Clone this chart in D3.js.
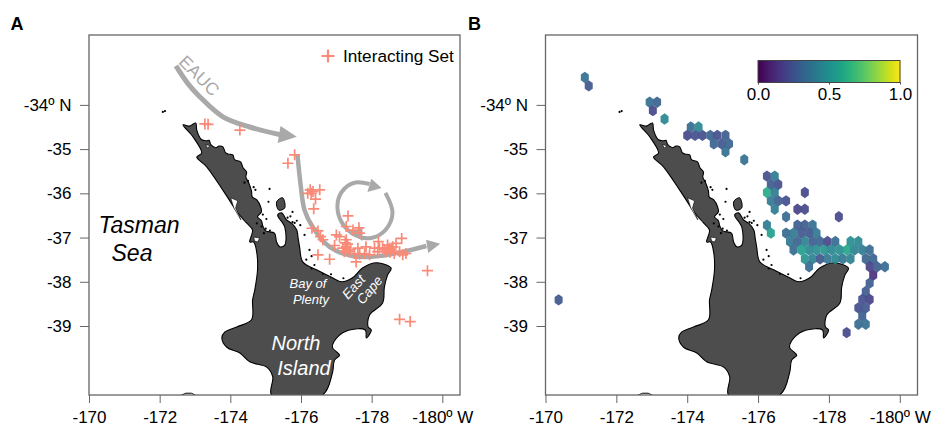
<!DOCTYPE html>
<html>
<head>
<meta charset="utf-8">
<script src="https://cdn.jsdelivr.net/npm/d3@7"></script>
<style>
  body { margin: 0; background: #fff; }
  text { font-family: "Liberation Sans", Arial, sans-serif; }
</style>
</head>
<body>
<div id="chart"></div>
<script>
// longitudes are written as degrees east, tick labels follow the figure
var lonTicks = [170, 172, 174, 176, 178, 180];
var lonLabels = ["-170", "-172", "-174", "-176", "-178", "-180º W"];
var latTicks = [-34, -35, -36, -37, -38, -39];
var latLabels = ["-34º N", "-35", "-36", "-37", "-38", "-39"];
var cbarTicks = [0, 0.5, 1];
var cbarLabels = ["0.0", "0.5", "1.0"];

var northIsland = [[172.66,-34.45],[172.85,-34.48],[173.02,-34.41],[173.05,-34.57],[173.19,-34.79],[173.33,-34.81],[173.40,-34.80],[173.45,-34.90],
  [173.59,-34.97],[173.68,-34.93],[173.79,-34.95],[173.86,-35.08],[173.93,-35.11],[174.07,-35.13],[174.12,-35.24],[174.29,-35.29],[174.36,-35.42],[174.46,-35.52],[174.44,-35.63],[174.52,-35.76],[174.60,-35.95],
  [174.62,-36.08],[174.75,-36.15],[174.86,-36.31],[174.88,-36.42],[174.77,-36.53],[174.88,-36.62],[174.92,-36.74],[175.00,-36.85],[175.25,-36.90],[175.31,-37.10],[175.40,-37.21],
  [175.54,-37.17],[175.54,-36.76],[175.34,-36.49],[175.45,-36.44],[175.59,-36.60],[175.74,-36.68],[175.88,-36.83],[175.92,-37.02],[175.96,-37.21],[176.05,-37.55],
  [176.44,-37.73],[176.89,-37.91],[177.15,-38.00],[177.46,-37.91],[177.74,-37.69],[178.14,-37.57],[178.55,-37.69],[178.45,-37.85],
  [178.36,-38.12],[178.31,-38.48],[177.94,-38.75],[177.90,-39.02],[177.99,-39.09],[177.85,-39.27],[177.82,-39.09],[177.37,-39.09],
  [177.03,-39.25],[176.89,-39.48],[177.09,-39.66],[176.95,-39.77],[176.89,-40.06],[176.61,-40.56],[175.17,-40.56],[175.20,-40.15],
  [175.03,-39.93],[174.55,-39.81],[174.27,-39.61],[173.90,-39.48],[173.76,-39.27],[173.84,-39.14],[174.18,-39.02],[174.60,-38.86],
  [174.63,-38.41],[174.69,-38.19],[174.77,-37.73],[174.75,-37.35],[174.66,-37.10],[174.55,-37.10],[174.63,-36.83],[174.46,-36.67],
  [174.21,-36.44],[173.84,-35.99],[173.33,-35.40],[173.05,-35.18],[173.19,-35.09],[172.94,-34.72]];
var harbours = [
  [[174.01,-36.10],[174.21,-36.17],[174.15,-36.33],[174.30,-36.60],[174.10,-36.33]],
  [[174.66,-36.99],[174.83,-37.01],[174.77,-37.10],[174.69,-37.08]],
  [[173.30,-34.90],[173.42,-34.92],[173.36,-34.98]]
];
var greatBarrier = [[175.31,-36.19],[175.48,-36.10],[175.54,-36.33],[175.37,-36.38]];
var southTip = [[172.57,-40.58],[172.74,-40.52],[172.90,-40.52],[173.05,-40.58]];
var specks = [[172.09,-34.16],[172.15,-34.14],[174.71,-35.92],[175.11,-35.90],[175.76,-36.42],[175.76,-36.65],[175.88,-36.62],
  [176.10,-36.94],[176.24,-37.28],[175.08,-36.19],[176.38,-37.62],[175.82,-36.67],[174.40,-35.76],[174.50,-35.72],[174.66,-35.86],
  [174.75,-36.68],[174.88,-36.75],[175.00,-36.80],[175.12,-36.84],[174.95,-36.90],[175.70,-36.52],[175.98,-36.72],[176.30,-37.42],
  [176.15,-37.50],[176.30,-37.70],[176.62,-37.82],[176.85,-37.83],[175.02,-36.58],[174.92,-36.48],[175.62,-36.55],[177.20,-37.92]];

var interactingSet = [[173.28,-34.43],[173.37,-34.44],[174.27,-34.57],[175.82,-35.13],[175.63,-35.32],[176.26,-35.92],[176.19,-36.00],
  [176.34,-35.96],[176.53,-35.92],[176.29,-36.00],[176.41,-36.13],[176.36,-36.35],[177.33,-36.51],[176.31,-36.79],[176.48,-36.85],
  [176.55,-36.98],[176.62,-37.05],[177.28,-36.75],[177.64,-36.78],[177.47,-36.83],[177.66,-36.90],[177.00,-36.94],[177.09,-36.98],
  [176.95,-37.18],[177.28,-37.05],[177.28,-37.21],[177.23,-37.32],[177.32,-37.15],[177.61,-37.24],[177.37,-37.32],[177.51,-37.36],
  [177.84,-37.21],[178.19,-37.09],[178.08,-37.24],[177.80,-37.36],[177.94,-37.39],[178.22,-37.24],[178.31,-37.24],[176.48,-37.39],
  [176.81,-37.49],[177.56,-37.55],[177.66,-37.38],[177.18,-37.24],[178.85,-37.02],[178.45,-37.17],[178.60,-37.21],[178.69,-37.13],
  [178.55,-37.28],[178.79,-37.32],[178.97,-37.36],[178.88,-37.39],[178.17,-37.32],[178.41,-37.32],[178.64,-37.36],[179.58,-37.75],
  [178.79,-38.85],[179.09,-38.90],[177.25,-37.12],[177.32,-37.28],[178.50,-37.24],[178.52,-37.33],[178.36,-37.27],[177.40,-37.27]];

var hexLon = [171.11,171.22,172.94,173.15,173.03,173.36,174.10,174.32,174.00,174.22,174.43,174.65,174.85,175.08,174.75,174.97,175.18,175.08,175.61,
  176.25,176.47,176.36,176.57,176.25,176.47,177.32,176.36,176.57,176.79,176.47,177.11,177.32,176.79,178.28,
  176.25,177.11,177.32,177.54,176.36,176.79,177.00,177.22,177.44,177.65,
  176.90,177.11,177.32,177.54,177.75,177.96,178.18,178.61,178.83,
  177.00,177.22,177.44,177.65,177.87,178.08,178.30,178.51,178.72,178.94,179.15,
  177.32,177.54,177.75,177.96,178.18,178.39,178.61,179.04,179.25,
  177.44,179.15,179.36,179.58,179.25,179.15,179.04,178.94,179.15,178.83,179.04,178.94,178.83,179.04,178.50,170.37];
var hexLat = [-33.38,-33.57,-33.94,-33.94,-34.13,-34.32,-34.50,-34.50,-34.69,-34.69,-34.69,-34.69,-34.69,-34.69,-34.88,-34.88,-34.88,-35.06,-35.24,
  -35.61,-35.61,-35.80,-35.80,-35.98,-35.98,-35.98,-36.17,-36.17,-36.17,-36.36,-36.36,-36.36,-36.53,-36.53,
  -36.72,-36.72,-36.72,-36.72,-36.90,-36.90,-36.90,-36.90,-36.90,-36.90,
  -37.09,-37.09,-37.09,-37.09,-37.09,-37.09,-37.09,-37.09,-37.09,
  -37.28,-37.28,-37.28,-37.28,-37.28,-37.28,-37.28,-37.28,-37.28,-37.28,-37.28,
  -37.48,-37.48,-37.48,-37.48,-37.48,-37.48,-37.48,-37.48,-37.48,
  -37.66,-37.66,-37.66,-37.66,-37.85,-38.03,-38.22,-38.40,-38.40,-38.59,-38.59,-38.77,-38.96,-38.96,-39.15,-38.41];
var hexValue = [.35,.25,.35,.3,.2,.45,.33,.45,.2,.22,.22,.3,.22,.27,.3,.25,.3,.35,.35,
  .22,.4,.27,.22,.6,.4,.2,.38,.28,.22,.4,.18,.2,.33,.2,
  .4,.27,.27,.35,.55,.33,.38,.25,.25,.38,
  .38,.3,.42,.28,.3,.2,.33,.48,.45,
  .33,.55,.45,.48,.5,.45,.48,.58,.42,.4,.33,
  .5,.42,.25,.38,.45,.38,.42,.3,.3,
  .33,.18,.28,.33,.12,.27,.27,.22,.18,.22,.25,.28,.33,.35,.2,.25];

var eaucLine = [[172.46,-33.12],[172.80,-33.52],[173.14,-33.82],[173.79,-34.27],[174.55,-34.50],[175.45,-34.68]];
var eaucHead = [[175.42,-34.48],[175.34,-34.86],[175.88,-34.72]];
var eacLine = [[175.90,-35.13],[175.99,-35.81],[176.10,-36.38],[176.33,-36.76],[176.81,-37.21],[177.46,-37.42],[178.22,-37.42],[179.55,-37.19]];
var eacHead = [[179.54,-37.05],[179.60,-37.35],[179.94,-37.14]];
var eddyLine = [[178.39,-35.99],[178.59,-36.44],[178.39,-36.83],[177.99,-37.01],[177.57,-36.96],[177.18,-36.69],[177.03,-36.31],[177.15,-35.97],[177.51,-35.76],[177.94,-35.79]];
var eddyHead = [[177.99,-35.67],[177.88,-35.97],[178.28,-35.88]];
var eddyHead2 = [[177.74,-36.78],[177.74,-37.08],[177.37,-36.87]];

var margin_top = 35, margin_bottom = 395;

var svg = d3.select("#chart").append("svg")
    .attr("width", 931)
    .attr("height", 427)
    .style("display", "block");

function panel(left, right, name, nameX) {
  var x = d3.scaleLinear().domain([170, 180.5]).range([left, right]);
  var y = d3.scaleLinear().domain([-32.42, -40.56]).range([margin_top, margin_bottom]);
  var g = svg.append("g");
  var clipId = "clip" + name;
  g.append("clipPath").attr("id", clipId).append("rect")
      .attr("x", left).attr("y", margin_top).attr("width", right - left).attr("height", margin_bottom - margin_top);

  var map = g.append("g").attr("clip-path", "url(#" + clipId + ")");
  var line = d3.line().x(function(d) { return x(d[0]); }).y(function(d) { return y(d[1]); });
  var coast = d3.line().curve(d3.curveCatmullRomClosed.alpha(0.5)).x(function(d) { return x(d[0]); }).y(function(d) { return y(d[1]); });

  map.append("path").attr("d", line(southTip)).attr("fill", "#fff").attr("stroke", "#000").attr("stroke-width", 1);
  map.append("path").attr("d", coast(northIsland)).attr("fill", "#4d4d4d").attr("stroke", "#000").attr("stroke-width", 1.1);
  map.selectAll(".harbour").data(harbours).enter().append("path")
      .attr("class", "harbour")
      .attr("d", function(d) { return line(d) + "Z"; })
      .attr("fill", "#fff").attr("stroke", "#000").attr("stroke-width", 0.6);
  map.append("path").attr("d", coast(greatBarrier)).attr("fill", "#4d4d4d").attr("stroke", "#000").attr("stroke-width", 1);
  map.selectAll(".speck").data(specks).enter().append("circle")
      .attr("class", "speck")
      .attr("cx", function(d) { return x(d[0]); })
      .attr("cy", function(d) { return y(d[1]); })
      .attr("r", 1.1)
      .attr("fill", "#000");

  g.append("rect")
      .attr("x", left).attr("y", margin_top).attr("width", right - left).attr("height", margin_bottom - margin_top)
      .attr("fill", "none").attr("stroke", "#666").attr("stroke-width", 1.3);

  var xAxis = d3.axisBottom(x).tickValues(lonTicks).tickSize(8).tickSizeOuter(0)
      .tickFormat(function(d, i) { return lonLabels[i]; });
  var yAxis = d3.axisLeft(y).tickValues(latTicks).tickSize(9).tickSizeOuter(0)
      .tickFormat(function(d, i) { return latLabels[i]; });
  var ax = g.append("g").attr("transform", "translate(0," + margin_bottom + ")").call(xAxis);
  var ay = g.append("g").attr("transform", "translate(" + left + ",0)").call(yAxis);
  ax.select(".domain").remove();
  ay.select(".domain").remove();
  ax.selectAll("line").attr("stroke", "#666").attr("stroke-width", 1);
  ay.selectAll("line").attr("stroke", "#666").attr("stroke-width", 1);
  ax.selectAll("text").attr("font-size", 17).attr("fill", "#000").attr("y", 28).attr("dy", 0)
      .attr("font-family", "'Liberation Sans', Arial, sans-serif");
  ay.selectAll("text").attr("font-size", 17).attr("fill", "#000").attr("x", -17.5)
      .attr("font-family", "'Liberation Sans', Arial, sans-serif");

  g.append("text").attr("x", nameX).attr("y", 30)
      .attr("font-size", 18).attr("font-weight", "bold").text(name);

  return { x: x, y: y, g: g, map: map, line: line };
}

// panel A
var a = panel(89, 460, "A", 10.5);

var curve = d3.line().curve(d3.curveCatmullRom)
    .x(function(d) { return a.x(d[0]); }).y(function(d) { return a.y(d[1]); });
[[eaucLine, 5, eaucHead], [eacLine, 4.5, eacHead], [eddyLine, 4, eddyHead]].forEach(function(s) {
  a.g.append("path").attr("d", curve(s[0])).attr("fill", "none").attr("stroke", "#a9a9a9").attr("stroke-width", s[1]);
  a.g.append("path").attr("d", a.line(s[2]) + "Z").attr("fill", "#a9a9a9");
});
a.g.append("path").attr("d", a.line(eddyHead2) + "Z").attr("fill", "#a9a9a9");

var crossSize = 5.5;
a.g.selectAll(".cross").data(interactingSet).enter().append("path")
    .attr("class", "cross")
    .attr("transform", function(d) { return "translate(" + a.x(d[0]) + "," + a.y(d[1]) + ")"; })
    .attr("d", "M" + (-crossSize) + ",0H" + crossSize + "M0," + (-crossSize) + "V" + crossSize)
    .attr("fill", "none")
    .attr("stroke", "#fa8a78")
    .attr("stroke-width", 1.7);

a.g.append("path")
    .attr("transform", "translate(328,56)")
    .attr("d", "M-6.5,0H6.5M0,-6.5V6.5")
    .attr("stroke", "#fa8a78").attr("stroke-width", 2.2);
a.g.append("text").attr("x", 343).attr("y", 62).attr("font-size", 17.2).text("Interacting Set");

function label(txt, px, py, size, color, rot, italic) {
  a.g.append("text")
      .attr("transform", "translate(" + px + "," + py + ") rotate(" + rot + ")")
      .attr("text-anchor", "middle")
      .attr("font-size", size)
      .attr("font-style", italic ? "italic" : "normal")
      .attr("fill", color)
      .text(txt);
}
label("EAUC", 195, 80, 17.5, "#a9a9a9", 45, false);
label("Tasman", 139, 233, 23, "#000", 0, true);
label("Sea", 132, 261, 23, "#000", 0, true);
label("Bay of", 308, 288, 13, "#fff", 0, true);
label("Plenty", 311, 304, 13, "#fff", 0, true);
label("East", 357, 290, 13.5, "#fff", -48, true);
label("Cape", 373, 293, 13.5, "#fff", -50, true);
label("North", 296, 350, 20, "#fff", 0, true);
label("Island", 304, 375, 20, "#fff", 0, true);

// panel B
var b = panel(545.5, 917.5, "B", 468);

var rx = 4, ry = 5.7;
var hexShape = "M0," + (-ry) + "L" + rx + "," + (-ry / 2) + "V" + (ry / 2) + "L0," + ry + "L" + (-rx) + "," + (ry / 2) + "V" + (-ry / 2) + "Z";
b.g.selectAll(".hex").data(hexValue).enter().append("path")
    .attr("class", "hex")
    .attr("transform", function(d, i) { return "translate(" + b.x(hexLon[i]) + "," + b.y(hexLat[i]) + ")"; })
    .attr("d", hexShape)
    .attr("fill", function(d) { return d3.interpolateViridis(d); })
    .attr("fill-opacity", 0.9);

// colorbar
var cx = d3.scaleLinear().domain([0, 1]).range([758, 900]);
var cbar = svg.append("g");
cbar.selectAll("rect").data(d3.range(0, 1, 1 / 71)).enter().append("rect")
    .attr("x", function(d) { return cx(d); })
    .attr("y", 60.5)
    .attr("width", 142 / 71 + 0.5)
    .attr("height", 22)
    .attr("fill", function(d) { return d3.interpolateViridis(d); });
cbar.append("rect").attr("x", 758).attr("y", 60.5).attr("width", 142).attr("height", 22)
    .attr("fill", "none").attr("stroke", "#444").attr("stroke-width", 1);
var cAxis = cbar.append("g").attr("transform", "translate(0,82.5)")
    .call(d3.axisBottom(cx).tickValues(cbarTicks).tickSize(2).tickSizeOuter(0)
      .tickFormat(function(d, i) { return cbarLabels[i]; }));
cAxis.select(".domain").remove();
cAxis.selectAll("line").attr("stroke", "#444");
cAxis.selectAll("text").attr("font-size", 17).attr("fill", "#000").attr("y", 17.5).attr("dy", 0)
    .attr("font-family", "'Liberation Sans', Arial, sans-serif");
</script>
</body>
</html>
